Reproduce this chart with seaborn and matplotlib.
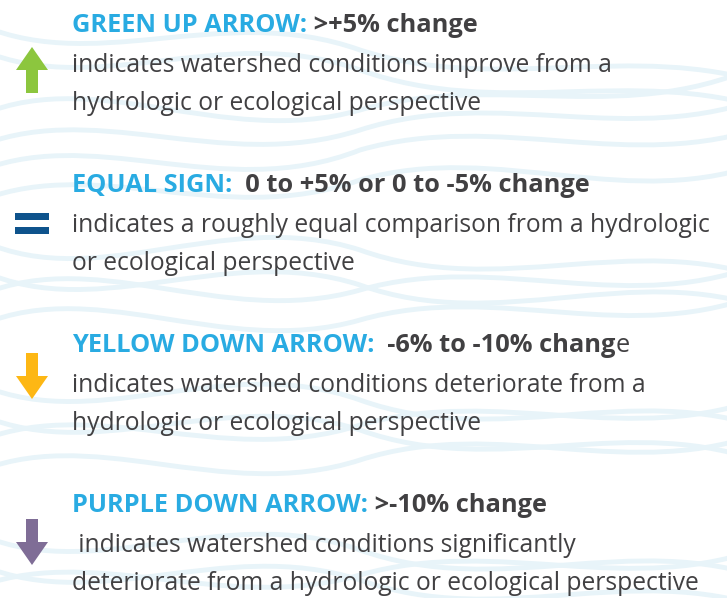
import matplotlib
matplotlib.use("Agg")
import matplotlib.pyplot as plt
from matplotlib.path import Path
from matplotlib.patches import PathPatch, Polygon, Rectangle
import seaborn as sns

sns.set_theme(style="white")
plt.rcParams['font.family'] = ['Open Sans', 'DejaVu Sans']

# legend content
symbols = ['up', 'equal', 'down', 'down']
symbol_colors = ['#8cc63e', '#0e538c', '#fdb714', '#7f6d96']
headings = ['GREEN UP ARROW:', 'EQUAL SIGN:', 'YELLOW DOWN ARROW:', 'PURPLE DOWN ARROW:']
ranges = [' >+5% change', '  0 to +5% or 0 to -5% change', '  -6% to -10% chang', ' >-10% change']
range_tails = ['', '', 'e', '']
descriptions = [
    ['indicates watershed conditions improve from a', 'hydrologic or ecological perspective'],
    ['indicates a roughly equal comparison from a hydrologic', 'or ecological perspective'],
    ['indicates watershed conditions deteriorate from a', 'hydrologic or ecological perspective'],
    [' indicates watershed conditions significantly', 'deteriorate from a hydrologic or ecological perspective'],
]

# layout (pixels)
W, H = 727, 598
TEXT_X = 72
ICON_X = 32
GROUP_STEP = 160
FIRST_BASE = 32
icon_dy = [38, 31, 24, 30]
heading_color = '#29abe2'
body_color = '#414042'
wave_color = '#e8f4f9'

fig = plt.figure(figsize=(W / 100, H / 100), dpi=100)
ax = fig.add_axes([0, 0, 1, 1])
ax.set_xlim(0, W)
ax.set_ylim(H, 0)
ax.axis('off')
renderer = fig.canvas.get_renderer()


def fit_size(s, target, weight):
    t = ax.text(0, 0, s, fontsize=10, fontweight=weight)
    w = t.get_window_extent(renderer).width
    t.remove()
    return 10 * target / w


body_size = fit_size(descriptions[0][0], 541, 'normal')
head_size = fit_size(headings[0] + ranges[0], 406, 'bold')

# pale wavy background (two bezier segments per wave)
wave_x = [-30, 90, 220, 360, 500, 630, 770]
wave_y = [
    (120, 60, 150, 110, 70, 130, 60),
    (150, 95, 175, 130, 85, 150, 95),
    (175, 120, 205, 150, 110, 175, 125),
    (205, 150, 230, 180, 140, 215, 160),
    (235, 300, 205, 250, 300, 230, 280),
    (265, 330, 240, 285, 335, 260, 310),
    (300, 240, 330, 290, 250, 320, 260),
    (330, 270, 360, 320, 280, 350, 290),
    (380, 440, 350, 400, 450, 380, 430),
    (410, 470, 385, 430, 480, 410, 465),
    (445, 390, 470, 425, 385, 450, 395),
    (475, 420, 505, 460, 415, 485, 430),
    (530, 590, 500, 550, 600, 530, 580),
    (560, 620, 535, 580, 630, 560, 610),
    (590, 540, 615, 575, 535, 600, 545),
    (20, 80, 0, 50, 95, 40, 85),
    (45, 105, 20, 70, 120, 65, 110),
]
codes = [Path.MOVETO] + [Path.CURVE4] * 6
for ys in wave_y:
    ax.add_patch(PathPatch(Path(list(zip(wave_x, ys)), codes), fill=False,
                           edgecolor=wave_color, lw=3.5, zorder=0))

for i, kind in enumerate(symbols):
    base = FIRST_BASE + i * GROUP_STEP
    cy = base + icon_dy[i]
    c = symbol_colors[i]
    if kind == 'equal':
        ax.add_patch(Rectangle((ICON_X - 17, cy - 10.5), 34, 7, color=c, lw=0))
        ax.add_patch(Rectangle((ICON_X - 17, cy + 3.5), 34, 7, color=c, lw=0))
    else:
        s = -1 if kind == 'up' else 1
        pts = [(ICON_X - 6, cy - 23 * s), (ICON_X + 6, cy - 23 * s), (ICON_X + 6, cy),
               (ICON_X + 16, cy), (ICON_X, cy + 23 * s), (ICON_X - 16, cy), (ICON_X - 6, cy)]
        ax.add_patch(Polygon(pts, closed=True, color=c, lw=0))

    t = ax.text(TEXT_X, base, headings[i], color=heading_color, fontsize=head_size,
                fontweight='bold', va='baseline')
    t = ax.annotate(ranges[i], xy=(1, 0), xycoords=t, va='bottom', ha='left',
                    color=body_color, fontsize=head_size, fontweight='bold')
    if range_tails[i]:
        ax.annotate(range_tails[i], xy=(1, 0), xycoords=t, va='bottom', ha='left',
                    color=body_color, fontsize=head_size)
    for j, line in enumerate(descriptions[i]):
        ax.text(TEXT_X, base + 40 + 38 * j, line, color=body_color, fontsize=body_size,
                va='baseline')

fig.savefig('out.png', dpi=100, facecolor='white')
